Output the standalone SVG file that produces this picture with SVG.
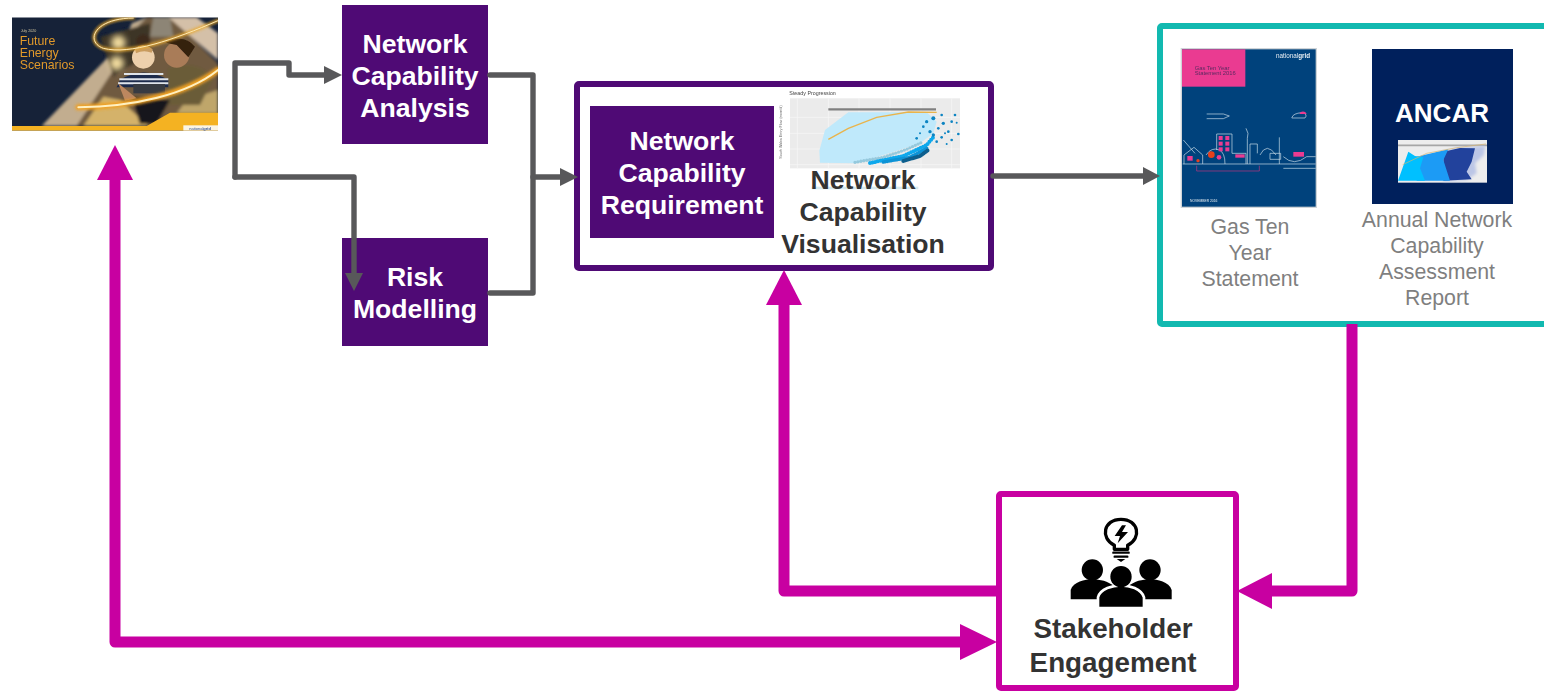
<svg xmlns="http://www.w3.org/2000/svg" width="1544" height="691" viewBox="0 0 1544 691">
<style>
text{font-family:"Liberation Sans",Arial,sans-serif}
.w{fill:#fff;font-weight:700;font-size:26.6px;text-anchor:middle}
.d{fill:#333;font-weight:700;font-size:26.6px;text-anchor:middle}
.s{fill:#333;font-weight:700;font-size:27.8px;text-anchor:middle}
.g{fill:#7f7f7f;font-size:21.3px;text-anchor:middle}
.box{fill:#4f0a75}
.gc{fill:none;stroke:#58585a;stroke-width:5.4;stroke-linejoin:round;stroke-linecap:round}
.gh{fill:#58585a}
.mc{fill:none;stroke:#c800a1;stroke-width:11;stroke-linejoin:round;stroke-linecap:butt}
.mh{fill:#c800a1}
.ln{fill:none;stroke:#cfe0ec;stroke-width:2}
.pk{fill:#ea3b91}
.dot{fill:none;stroke-linecap:round}
</style>
<defs>
<filter id="b0" x="-5%" y="-5%" width="110%" height="110%"><feGaussianBlur stdDeviation="1.2"/></filter>
<filter id="b1" x="-20%" y="-20%" width="140%" height="140%"><feGaussianBlur stdDeviation="4"/></filter>
<filter id="b2" x="-30%" y="-30%" width="160%" height="160%"><feGaussianBlur stdDeviation="10"/></filter>
<clipPath id="fc"><rect x="36" y="52" width="618" height="340"/></clipPath>
</defs>

<g id="fes-cover" transform="scale(.33333)">
<g filter="url(#b0)">
<g clip-path="url(#fc)">
<rect x="36" y="52" width="618" height="340" fill="#122038"/>
<g filter="url(#b1)">
<polygon points="125,378 440,52 515,52 654,190 654,378" fill="#6f5a40"/>
<polygon points="125,378 440,52 395,70 340,210 230,378" fill="#c2ad8f"/>
<polygon points="505,52 654,180 654,100 590,52" fill="#d4c0a8"/>
<polygon points="460,52 510,52 520,110 450,110" fill="#8d8576"/>
<polygon points="300,110 450,70 450,160 340,230" fill="#3e3527"/>
<polygon points="250,378 310,290 360,300 445,378" fill="#d4b26b"/>
<polygon points="560,300 654,270 654,340 530,340" fill="#bfa66a"/>
<path d="M505 205Q590 175 640 235L600 315H505Z" fill="#6b5c38"/>
<path d="M395 290L510 300 470 372H420Z" fill="#15171d"/>
<circle cx="430" cy="125" r="22" fill="#3e2a1a"/>
</g>
<g filter="url(#b0)">
<circle cx="430" cy="172" r="34" fill="#edd0ac"/>
<path d="M405 145Q430 125 458 148L455 158Q430 148 408 160Z" fill="#c79a60"/>
<path d="M360 240Q430 195 505 240L505 262H350Z" fill="#1f2c4c"/>
<path d="M372 222H490M358 238H505M354 250H505" stroke="#dfe3ea" stroke-width="6" fill="none"/>
<circle cx="530" cy="165" r="38" fill="#a97c58"/>
<path d="M498 128Q550 100 585 140L565 172 530 135Z" fill="#34200f"/>
<rect x="400" y="252" width="95" height="28" fill="#383a42"/>
<path d="M355 250L410 295 375 302Z" fill="#bd875e"/>
</g>
<g fill="#f5dfa0" filter="url(#b2)"><circle cx="355" cy="128" r="22"/><circle cx="350" cy="190" r="22"/></g>
<g fill="none" stroke-linecap="round">
<path d="M235 322C400 320 560 280 654 210" stroke="#f0a020" stroke-width="18" filter="url(#b1)"/>
<path d="M235 322C400 320 560 285 654 210" stroke="#fff0c0" stroke-width="6"/>
<path d="M654 62C520 120 390 165 310 145C255 125 280 55 400 54" stroke="#eaa82a" stroke-width="9" filter="url(#b1)"/>
<path d="M654 62C520 120 390 165 310 145C255 125 280 55 400 54" stroke="#fde9b5" stroke-width="3"/>
</g>
<polygon points="36,378 440,378 510,338 654,338 654,392 36,392" fill="#f4b223"/>
<rect x="550" y="376" width="104" height="16" fill="#fbf5e4" filter="url(#b0)"/>
</g>
<text x="62" y="96" font-size="11" fill="#d9c8a0">July 2020</text>
<text x="59" y="136" font-size="37" fill="#e29a2b">Future</text>
<text x="59" y="172" font-size="37" fill="#e29a2b">Energy</text>
<text x="59" y="208" font-size="37" fill="#e29a2b">Scenarios</text>
<text x="568" y="389" font-size="12" fill="#33518f">national<tspan font-weight="700">grid</tspan></text>
</g>
</g>

<g id="network-capability-analysis">
<rect class="box" x="342" y="5" width="146" height="139"/>
<text class="w" x="415" y="53">Network</text>
<text class="w" x="415" y="85">Capability</text>
<text class="w" x="415" y="117">Analysis</text>
</g>
<g id="risk-modelling">
<rect class="box" x="342" y="238" width="146" height="108"/>
<text class="w" x="415" y="286">Risk</text>
<text class="w" x="415" y="318">Modelling</text>
</g>

<g id="network-capability-frame">
<rect x="577" y="84" width="414" height="184" rx="2" fill="#fff" stroke="#4f0a75" stroke-width="6"/>
<rect class="box" x="590" y="106" width="184" height="132"/>
<text class="w" x="682" y="150">Network</text>
<text class="w" x="682" y="182">Capability</text>
<text class="w" x="682" y="214">Requirement</text>
<g id="chart" transform="translate(770 80) scale(.33333)">
<g filter="url(#b0)">
<text x="58" y="46" font-size="16" fill="#444">Steady Progression</text>
<rect x="60" y="55" width="510" height="210" fill="#ebebeb"/>
<g stroke="#f7f7f7" stroke-width="2"><path d="M60 112H570M60 160H570M60 207H570M60 254H570M82 55V265M175 55V265M267 55V265M360 55V265M453 55V265M545 55V265"/></g>
<text x="36" y="236" font-size="11" fill="#666" transform="rotate(-90 36 236)">South Wales Entry Flow (mcm/d)</text>
<polygon points="150,248 148,212 165,150 235,97 470,97 500,125 490,160 450,190 350,222 260,250" fill="#bfe9fb"/>
<path class="dot" d="M255 247L340 232 410 208 460 185" stroke="#95c9dd" stroke-width="10" stroke-dasharray="0 9"/>
<path class="dot" d="M300 249L400 228 470 195 490 172" stroke="#0ea8ec" stroke-width="12" stroke-dasharray="0 8"/>
<path class="dot" d="M340 246L420 232 470 205" stroke="#0e93d6" stroke-width="11" stroke-dasharray="0 6"/>
<path class="dot" d="M400 243L450 228 475 210" stroke="#0b5f8e" stroke-width="12" stroke-dasharray="0 5"/>
<g fill="#0d84c2">
<circle cx="470" cy="125" r="5"/><circle cx="490" cy="115" r="6"/><circle cx="515" cy="105" r="4"/><circle cx="555" cy="105" r="4"/><circle cx="545" cy="125" r="4"/><circle cx="520" cy="130" r="5"/><circle cx="505" cy="145" r="4"/><circle cx="560" cy="128" r="3"/><circle cx="535" cy="155" r="4"/><circle cx="565" cy="162" r="4"/><circle cx="545" cy="180" r="4"/><circle cx="515" cy="172" r="4"/><circle cx="490" cy="165" r="5"/><circle cx="460" cy="140" r="4"/><circle cx="530" cy="192" r="3"/><circle cx="480" cy="155" r="5"/><circle cx="500" cy="185" r="4"/><circle cx="525" cy="160" r="3"/><circle cx="450" cy="160" r="3"/><circle cx="440" cy="175" r="4"/>
</g>
<path d="M175 88H498" stroke="#808080" stroke-width="7" fill="none"/>
<path d="M175 178L235 145 320 112 415 96 500 97" stroke="#e9b44c" stroke-width="4" fill="none"/>
<rect x="125" y="320" width="320" height="8" fill="#d6e9ef"/>
</g>
</g>
<text class="d" x="863" y="189">Network</text>
<text class="d" x="863" y="221">Capability</text>
<text class="d" x="863" y="253">Visualisation</text>
</g>

<g id="outputs-frame">
<rect x="1160" y="26" width="390" height="298" rx="2" fill="#fff" stroke="#12b9b0" stroke-width="6"/>
</g>

<g id="gas-ten-year-statement">
<g transform="translate(1170 40) scale(.33333)">
<g filter="url(#b0)">
<rect x="34" y="26" width="405" height="476" fill="#01437c" stroke="#cfd4d8" stroke-width="4"/>
<rect x="36" y="28" width="190" height="112" class="pk"/>
<text x="74" y="91" font-size="17.5" fill="#5a2a60">Gas Ten Year</text>
<text x="74" y="106" font-size="17.5" fill="#5a2a60">Statement 2016</text>
<text x="318" y="53" font-size="19" fill="#e8eef4">national<tspan font-weight="700">grid</tspan></text>
<g class="ln">
<path d="M38 372H437M110 222H160L178 228 160 236H110M40 300L75 340M42 345L72 322 98 345V372M42 345V372M108 345Q125 320 148 330 165 338 165 372M140 330V282H186V340M186 340H228V372M232 372V295Q238 280 228 265M240 372V312H262V340M270 345Q290 305 318 345M328 372V292M300 340H332V358H300ZM340 350Q372 380 410 350H437M340 385H437M366 232Q370 220 395 218 415 222 405 234H372Q362 235 366 232"/>
</g>
<path d="M80 377V393H268V377" fill="none" stroke="#c0357f" stroke-width="2"/>
<g class="pk"><rect x="146" y="288" width="12" height="12"/><rect x="166" y="288" width="12" height="12"/><rect x="146" y="305" width="12" height="12"/><rect x="166" y="305" width="12" height="12"/><rect x="146" y="322" width="12" height="12"/><rect x="166" y="322" width="12" height="12"/><rect x="52" y="348" width="16" height="14"/><rect x="196" y="343" width="28" height="10"/><circle cx="147" cy="352" r="7"/><rect x="370" y="336" width="32" height="14"/><path d="M388 222A12 12 0 0 1 410 222Z"/></g>
<circle cx="124" cy="344" r="10" fill="#e8401f"/>
<circle cx="84" cy="362" r="5" fill="#e8401f"/>
<text x="60" y="485" font-size="10" fill="#e8eef4">NOVEMBER 2016</text>
</g>
</g>
<text class="g" x="1250" y="234">Gas Ten</text>
<text class="g" x="1250" y="260">Year</text>
<text class="g" x="1250" y="286">Statement</text>
</g>

<g id="ancar-report">
<rect x="1372" y="49" width="141" height="155" fill="#00205c"/>
<text x="1442" y="122" fill="#fff" font-weight="700" font-size="26" text-anchor="middle">ANCAR</text>
<g transform="translate(1360 40) scale(.33333)">
<rect x="114" y="300" width="267" height="128" fill="#ededed"/>
<path d="M114 316H381" stroke="#a6a6a6" stroke-width="5"/>
<polygon points="250,335 300,322 375,318 372,345 345,370 350,400 320,420 250,424" fill="#bcc6e6" filter="url(#b1)"/>
<polygon points="250,335 300,324 345,325 335,365 320,395 335,418 250,422" fill="#23439c" filter="url(#b0)"/>
<polygon points="170,350 265,328 250,360 270,422 170,422" fill="#1e9bf5" filter="url(#b0)"/>
<polygon points="114,422 145,335 165,348 190,352 180,385 195,422" fill="#00c0ff" filter="url(#b0)"/>
<path d="M128 374L200 340 290 323 378 312" stroke="#d9b36b" stroke-width="2" fill="none"/>
</g>
<text class="g" x="1437" y="227">Annual Network</text>
<text class="g" x="1437" y="253">Capability</text>
<text class="g" x="1437" y="279">Assessment</text>
<text class="g" x="1437" y="305">Report</text>
</g>

<g id="stakeholder-engagement">
<rect x="999" y="494" width="237" height="194" rx="2" fill="#fff" stroke="#c800a1" stroke-width="6"/>
<g id="people-icon" transform="translate(1050 510) scale(.33333)">
<path d="M193 118V106C150 85 160 28 213 28 266 28 276 85 233 106V118Z" fill="none" stroke="#000" stroke-width="10" stroke-linejoin="round"/>
<path d="M190 128H236M194 140H232" stroke="#000" stroke-width="7" stroke-linecap="round"/>
<path d="M200 147H226L213 156Z" fill="#000"/>
<polygon points="216,46 194,78 210,78 203,100 234,66 216,66 228,46" fill="#000"/>
<circle cx="127" cy="180" r="32"/>
<circle cx="300" cy="180" r="32"/>
<path d="M62 268V240C70 215 105 208 127 208 150 208 175 214 190 228L150 268Z"/>
<path d="M365 268V240C357 215 322 208 300 208 277 208 252 214 237 228L277 268Z"/>
<path d="M144 294V262C150 235 190 226 213 226 238 226 274 235 282 262V294Z" fill="#000" stroke="#fff" stroke-width="8"/>
<circle cx="213" cy="200" r="32" fill="#000"/>
</g>
<text class="s" x="1113" y="638">Stakeholder</text>
<text class="s" x="1113" y="672">Engagement</text>
</g>

<g id="connectors">
<path class="gc" d="M235 177V63H289V75H326"/>
<polygon class="gh" points="324,66 342,75 324,84"/>
<path class="gc" d="M235 177H354V275"/>
<polygon class="gh" points="345,273 363,273 354,291"/>
<path class="gc" d="M490 75H533V293H490"/>
<path class="gc" d="M533 177H562"/>
<polygon class="gh" points="560,168 578,177 560,186"/>
<path class="gc" d="M993 176H1145"/>
<polygon class="gh" points="1143,167 1160,176 1143,185"/>
<path class="mc" d="M1352 324V591H1270"/>
<polygon class="mh" points="1272,573 1237,591 1272,609"/>
<path class="mc" d="M998 591H784V303"/>
<polygon class="mh" points="766,305 784,270 802,305"/>
<path class="mc" d="M115 178V642H962"/>
<polygon class="mh" points="97,180 115,145 133,180"/>
<polygon class="mh" points="960,624 997,642 960,660"/>
</g>
</svg>
